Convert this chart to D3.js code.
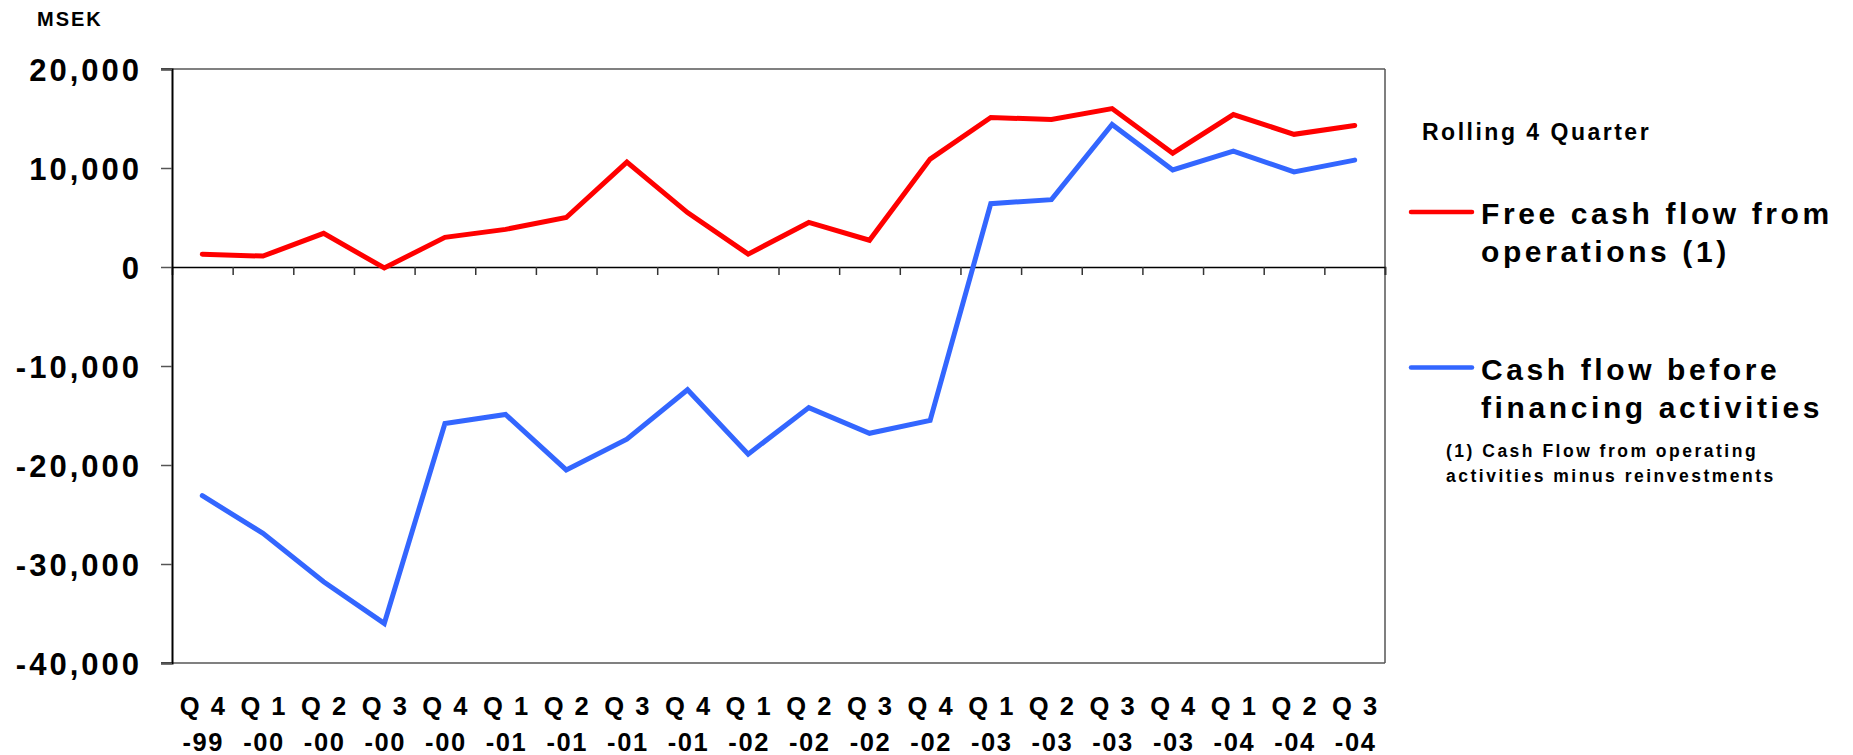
<!DOCTYPE html>
<html>
<head>
<meta charset="utf-8">
<script src="https://cdn.jsdelivr.net/npm/d3@7"></script>
<style>
  html, body { margin: 0; padding: 0; background: #ffffff; }
  svg { display: block; }
  text { font-family: "Liberation Sans", Arial, sans-serif; font-weight: bold; fill: #000; }
</style>
</head>
<body>
<svg id="chart" width="1853" height="755"></svg>
<script>
// Quarter labels (two lines each)
const quarters = ["Q 4","Q 1","Q 2","Q 3","Q 4","Q 1","Q 2","Q 3","Q 4","Q 1","Q 2","Q 3","Q 4","Q 1","Q 2","Q 3","Q 4","Q 1","Q 2","Q 3"];
const years    = ["-99","-00","-00","-00","-00","-01","-01","-01","-01","-02","-02","-02","-02","-03","-03","-03","-03","-04","-04","-04"];

// Rolling 4 quarter values, MSEK
const freeCashFlow = [1300, 1100, 3400, -100, 3000, 3800, 5000, 10600, 5500, 1300, 4500, 2700, 10900, 15100, 14900, 16000, 11500, 15400, 13400, 14300];
const cashBeforeFinancing = [-23100, -26900, -31800, -36000, -15800, -14900, -20500, -17400, -12400, -18900, -14200, -16800, -15500, 6400, 6800, 14400, 9800, 11700, 9600, 10800];

const yTicks = [20000, 10000, 0, -10000, -20000, -30000, -40000];

const seriesNames = [["Free cash flow from", "operations (1)"], ["Cash flow before", "financing activities"]];
const seriesColors = ["#ff0000", "#3366ff"];
const footnote = ["(1) Cash Flow from operating", "activities minus reinvestments"];

const svg = d3.select("#chart");
const plotLeft = 172, plotRight = 1385, plotTop = 69, plotBottom = 663;

const x = d3.scaleBand().domain(d3.range(quarters.length)).range([plotLeft, plotRight]).padding(0);
const xEdges = d3.scaleLinear().domain([0, quarters.length]).range([plotLeft, plotRight]);
const y = d3.scaleLinear().domain([-40000, 20000]).range([plotBottom, plotTop]);
const cx = i => x(i) + x.bandwidth() / 2;

// Thousands separator with a plain hyphen as minus sign
const fmt = d3.formatLocale({ decimal: ".", thousands: ",", grouping: [3], currency: ["", ""], minus: "-" }).format(",");

// Plot frame: top, bottom (grey) and right border
svg.append("line").attr("x1", plotLeft - 11).attr("x2", plotRight).attr("y1", y(20000)).attr("y2", y(20000))
  .attr("stroke", "#808080").attr("stroke-width", 2);
svg.append("line").attr("x1", plotLeft - 11).attr("x2", plotRight).attr("y1", y(-40000)).attr("y2", y(-40000))
  .attr("stroke", "#808080").attr("stroke-width", 2);
svg.append("line").attr("x1", plotRight).attr("x2", plotRight).attr("y1", y(20000)).attr("y2", y(-40000))
  .attr("stroke", "#555").attr("stroke-width", 1.5);

// Y axis
const yAxis = svg.append("g").attr("transform", `translate(${plotLeft},0)`)
  .call(d3.axisLeft(y).tickValues(yTicks).tickFormat(fmt).tickSize(11).tickPadding(19));
yAxis.select(".domain").attr("stroke", "#000").attr("stroke-width", 2);
yAxis.selectAll(".tick line").attr("stroke", "#555").attr("stroke-width", 1.5);
yAxis.selectAll(".tick text")
  .attr("fill", "#000")
  .style("font-size", "31px")
  .style("font-weight", "bold")
  .style("font-family", '"Liberation Sans", Arial, sans-serif')
  .style("letter-spacing", "3px")
  .attr("dy", "0.36em");

// Zero line with category boundary ticks
const zeroAxis = svg.append("g").attr("transform", `translate(0,${y(0)})`)
  .call(d3.axisBottom(xEdges).tickValues(d3.range(1, quarters.length + 1)).tickSize(8).tickFormat(""));
zeroAxis.select(".domain").attr("stroke", "#000").attr("stroke-width", 1.5);
zeroAxis.selectAll(".tick line").attr("stroke", "#333").attr("stroke-width", 1.5);

// Category labels
const catLabels = svg.append("g");
catLabels.selectAll("text.q").data(quarters).join("text")
  .attr("class", "q")
  .attr("x", (d, i) => cx(i) + 1)
  .attr("y", 715)
  .attr("text-anchor", "middle")
  .style("font-size", "25.5px")
  .style("letter-spacing", "2px")
  .text(d => d);
catLabels.selectAll("text.yr").data(years).join("text")
  .attr("class", "yr")
  .attr("x", (d, i) => cx(i) + 1)
  .attr("y", 751)
  .attr("text-anchor", "middle")
  .style("font-size", "25.5px")
  .style("letter-spacing", "1.6px")
  .text(d => d);

// Unit label
svg.append("text").attr("x", 37).attr("y", 26)
  .style("font-size", "20px").style("letter-spacing", "2px").text("MSEK");

// Series lines
const line = d3.line().x((d, i) => cx(i)).y(d => y(d));
[freeCashFlow, cashBeforeFinancing].forEach((vals, k) => {
  svg.append("path").datum(vals)
    .attr("d", line)
    .attr("fill", "none")
    .attr("stroke", seriesColors[k])
    .attr("stroke-width", 5)
    .attr("stroke-linecap", "round")
    .attr("stroke-linejoin", "miter");
});

// Legend
svg.append("text").attr("x", 1422).attr("y", 140)
  .style("font-size", "23px").style("letter-spacing", "2.5px").text("Rolling 4 Quarter");

const legendY = [212, 367.5];
const legend = svg.append("g");
seriesNames.forEach((lines, k) => {
  legend.append("line")
    .attr("x1", 1411).attr("x2", 1472)
    .attr("y1", legendY[k]).attr("y2", legendY[k])
    .attr("stroke", seriesColors[k]).attr("stroke-width", 4.5).attr("stroke-linecap", "round");
  lines.forEach((t, j) => {
    legend.append("text")
      .attr("x", 1481)
      .attr("y", legendY[k] + 12 + j * 38)
      .style("font-size", "30px")
      .style("letter-spacing", "3.6px")
      .text(t);
  });
});

footnote.forEach((t, j) => {
  svg.append("text").attr("x", 1446).attr("y", 456.7 + j * 25)
    .style("font-size", "17.5px").style("letter-spacing", "2.5px").text(t);
});
</script>
</body>
</html>
